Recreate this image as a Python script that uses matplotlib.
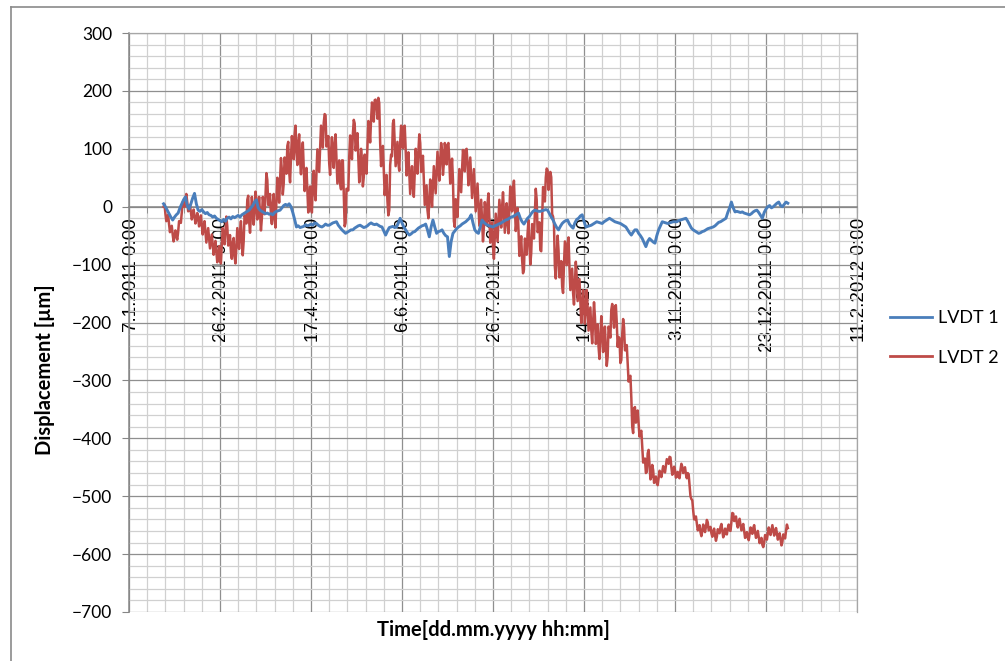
import datetime as dt

import matplotlib
matplotlib.use("Agg")
import matplotlib.pyplot as plt
import matplotlib.ticker as mticker
import matplotlib.dates as mdates
import matplotlib.transforms as mtransforms
from matplotlib.lines import Line2D

plt.rcParams["font.family"] = ["Liberation Sans", "DejaVu Sans"]

# day offsets are counted from the first axis date
start_date = dt.datetime(2011, 1, 7)
end_date = dt.datetime(2012, 2, 11)
first_day = 19

# LVDT 1 [um], one reading per day from first_day
lvdt1 = [
    5, 0, -6, -12, -18, -23, -18, -14, -11, -2,
    5, 12, 17, 2, -4, 5, 15, 23, 5, -6,
    -8, -5, -9, -12, -10, -14, -15, -18, -16, -20,
    -22, -24, -26, -22, -25, -20, -18, -21, -17, -19,
    -17, -15, -18, -14, -12, -10, -8, -6, -2, 2,
    8, 12, -2, -6, -8, -10, -12, -11, -13, -12,
    -14, -10, -8, -7, -6, -2, 2, 4, 2, 5,
    0, -10, -22, -35, -33, -36, -35, -34, -31, -33,
    -32, -30, -32, -28, -29, -32, -34, -35, -33, -30,
    -32, -32, -30, -28, -27, -26, -32, -36, -40, -43,
    -46, -44, -42, -40, -40, -37, -35, -33, -32, -34,
    -36, -35, -33, -30, -28, -30, -31, -30, -32, -34,
    -35, -42, -49, -42, -36, -35, -34, -36, -35, -28,
    -20, -28, -35, -40, -45, -49, -47, -44, -43, -40,
    -37, -35, -33, -32, -30, -40, -52, -35, -23, -35,
    -46, -43, -42, -40, -46, -50, -52, -86, -60, -46,
    -42, -38, -35, -33, -30, -28, -26, -23, -20, -14,
    -28, -40, -44, -46, -35, -23, -27, -30, -32, -33,
    -34, -35, -33, -32, -30, -29, -27, -25, -23, -22,
    -20, -18, -17, -15, -13, -11, -20, -26, -30, -25,
    -20, -17, -12, -8, -6, -7, -8, -8, -7, -6,
    -5, -6, -12, -18, -23, -30, -36, -40, -34, -29,
    -26, -24, -23, -30, -34, -37, -28, -22, -20, -16,
    -14, -25, -35, -34, -33, -32, -30, -28, -26, -27,
    -28, -29, -26, -24, -22, -20, -22, -24, -26, -27,
    -28, -29, -31, -33, -35, -40, -45, -49, -44, -40,
    -40, -46, -50, -55, -62, -69, -60, -55, -58, -61,
    -63, -50, -40, -33, -26, -27, -28, -29, -28, -27,
    -26, -26, -26, -24, -23, -22, -21, -20, -25, -31,
    -37, -40, -42, -44, -46, -45, -43, -42, -40, -38,
    -37, -36, -35, -33, -30, -27, -26, -24, -22, -20,
    -10, -2, 8, -2, -9, -8, -9, -10, -9, -11,
    -12, -13, -14, -12, -9, -7, -6, -10, -15, -20,
    -10, -4, 0, 2, -2, 0, 3, 6, 8, 2,
    0, 4, 8, 6,
]

# LVDT 2 [um], midnight readings, one per day from first_day
lvdt2 = [
    0, -12, -18, -30, -38, -48, -52, -50, -44, -25,
    -10, 5, 15, 8, -5, -10, -14, -16, -22, -20,
    -28, -32, -35, -44, -50, -55, -60, -66, -70, -78,
    -85, -92, -65, -50, -40, -34, -60, -78, -62, -86,
    -70, -55, -42, -58, -60, -20, 12, -25, -15, -2,
    -10, 12, -5, -12, -20, 5, 20, 46, 10, -16,
    5, -22, 10, 30, 45, 63, 40, 70, 105, 60,
    85, 100, 124, 95, 110, 80, 92, 70, 45, 30,
    10, 0, 40, 25, 58, 80, 100, 120, 145, 158,
    110, 75, 95, 85, 110, 80, 60, 40, 80, 20,
    -28, 30, 86, 100, 125, 144, 110, 85, 60, 80,
    51, 70, 105, 132, 150, 170, 184, 175, 188, 110,
    90, 60, 41, 10, -6, 90, 144, 110, 90, 75,
    110, 125, 138, 100, 69, 60, 45, 34, 60, 80,
    95, 110, 70, 46, 20, -6, 10, 25, 35, 46,
    60, 70, 81, 95, 75, 100, 107, 80, 60, 46,
    -35, 0, 25, 46, 65, 85, 98, 75, 60, 51,
    40, 29, 15, 5, -11, -25, -35, -10, 6, -20,
    -45, -69, -50, -35, -25, -12, 0, -10, -20, -28,
    -5, 15, 29, 0, -25, -40, -70, -92, -109, -60,
    -46, -60, -80, -40, -10, 12, -40, -75, -20, 29,
    50, 63, 55, 51, -17, -104, -85, -75, -110, -138,
    -100, -80, -63, -104, -125, -149, -130, -121, -145, -165,
    -178, -170, -175, -173, -195, -213, -200, -190, -225, -242,
    -225, -213, -230, -245, -259, -215, -178, -185, -173, -200,
    -225, -270, -220, -208, -248, -270, -294, -330, -391, -346,
    -360, -374, -390, -415, -440, -460, -426, -445, -467, -455,
    -470, -478, -468, -460, -458, -455, -448, -440, -432, -450,
    -460, -455, -465, -467, -455, -449, -455, -462, -460, -480,
    -505, -525, -540, -547, -555, -562, -560, -555, -553, -545,
    -558, -564, -560, -568, -570, -560, -553, -560, -567, -562,
    -555, -559, -545, -530, -540, -547, -545, -550, -553, -560,
    -568, -572, -565, -560, -555, -562, -566, -570, -576, -584,
    -580, -570, -564, -560, -558, -559, -562, -564, -570, -575,
    -579, -570, -560, -555,
]

# LVDT 2 [um], noon readings (half a day after each midnight reading)
lvdt2_noon = [
    4, -25, -14, -44, -33, -60, -41, -57, -25, -28,
    8, 0, 22, -8, 3, -22, -5, -29, -11, -34,
    -15, -48, -25, -62, -37, -72, -48, -83, -59, -96,
    -68, -98, -37, -65, -17, -67, -49, -90, -54, -98,
    -37, -73, -25, -84, -15, -29, 19, -45, 17, -31,
    26, -22, 17, -41, 17, -13, 58, 3, 22, -30,
    22, -36, 50, 7, 84, 21, 85, 57, 112, 42,
    122, 82, 140, 72, 125, 56, 111, 27, 67, -10,
    35, -10, 62, 11, 99, 60, 140, 102, 160, 104,
    122, 55, 120, 67, 125, 40, 80, 30, 80, -34,
    31, 28, 123, 82, 150, 97, 127, 42, 100, 35,
    90, 57, 148, 111, 180, 147, 185, 152, 179, 70,
    105, 20, 55, -15, 72, 87, 150, 70, 112, 62,
    140, 101, 140, 54, 94, 22, 70, 17, 100, 57,
    125, 60, 88, 3, 37, -20, 47, 0, 70, 23,
    95, 45, 110, 55, 110, 73, 110, 40, 83, -25,
    13, -18, 65, 25, 98, 61, 100, 37, 85, 15,
    65, -8, 40, -33, 12, -60, 8, -32, 23, -62,
    -27, -90, -12, -60, 12, -36, 25, -45, 6, -46,
    35, -8, 45, -42, -2, -85, -51, -115, -55, -83,
    -23, -100, -30, -55, 31, -44, -27, -77, 34, 9,
    66, 29, 60, -13, -30, -124, -50, -122, -94, -149,
    -60, -101, -53, -144, -107, -169, -95, -163, -125, -201,
    -144, -202, -144, -214, -174, -236, -165, -237, -203, -263,
    -189, -251, -207, -275, -207, -226, -168, -209, -170, -242,
    -227, -265, -194, -248, -239, -302, -292, -380, -348, -373,
    -352, -397, -387, -442, -435, -458, -420, -471, -446, -477,
    -466, -481, -456, -467, -448, -459, -436, -444, -433, -463,
    -449, -468, -458, -469, -444, -460, -450, -469, -462, -500,
    -507, -540, -535, -559, -550, -569, -549, -562, -541, -559,
    -553, -570, -556, -577, -557, -564, -548, -571, -556, -566,
    -549, -560, -529, -543, -535, -554, -539, -559, -548, -572,
    -562, -576, -554, -565, -550, -572, -560, -581, -572, -588,
    -567, -575, -554, -567, -550, -568, -555, -575, -564, -585,
    -566, -573, -549,
]

dates1 = [start_date + dt.timedelta(days=first_day + i) for i in range(len(lvdt1))]

# merge midnight and noon readings of LVDT 2 in time order
dates2, values2 = [], []
for i, val in enumerate(lvdt2):
    dates2.append(start_date + dt.timedelta(days=first_day + i))
    values2.append(val)
    if i < len(lvdt2_noon):
        dates2.append(start_date + dt.timedelta(days=first_day + i + 0.5))
        values2.append(lvdt2_noon[i])

major_dates = [start_date + dt.timedelta(days=50 * k) for k in range(9)]
minor_dates = [start_date + dt.timedelta(days=10 * k) for k in range(41)]

fig = plt.figure(figsize=(10.05, 6.61), dpi=100)
ax = fig.add_axes([129 / 1005, 1 - 612 / 661, 728 / 1005, 579 / 661])

ax.plot(dates2, values2, color="#be4b48", lw=1.8, label="LVDT 2", zorder=3)
ax.plot(dates1, lvdt1, color="#4a7ebb", lw=2.1, label="LVDT 1", zorder=4)

ax.set_xlim(start_date, end_date)
ax.set_ylim(-700, 300)

ax.xaxis.set_major_locator(mticker.FixedLocator(mdates.date2num(major_dates)))
ax.xaxis.set_minor_locator(mticker.FixedLocator(mdates.date2num(minor_dates)))


def date_label(x, pos):
    d = mdates.num2date(x)
    return f"{d.day}.{d.month}.{d.year} 0:00"


ax.xaxis.set_major_formatter(mticker.FuncFormatter(date_label))
ax.yaxis.set_major_locator(mticker.MultipleLocator(100))
ax.yaxis.set_minor_locator(mticker.MultipleLocator(20))

ax.grid(which="major", color="#8f8f8f", lw=0.9, zorder=1)
ax.grid(which="minor", color="#d0d0d0", lw=0.9, zorder=0)
ax.set_axisbelow(True)

ax.spines["bottom"].set_position(("data", 0))
for s in ["bottom", "left"]:
    ax.spines[s].set_color("#868686")
    ax.spines[s].set_linewidth(1.1)
for s in ["top", "right"]:
    ax.spines[s].set_color("#a6a6a6")
    ax.spines[s].set_linewidth(0.9)

ax.tick_params(axis="x", which="both", direction="out", length=4, color="#868686",
               pad=4, labelsize=13.5, labelrotation=90, labelcolor="black")
ax.tick_params(axis="y", which="major", direction="out", length=5, color="#868686",
               pad=7, labelsize=12.5, labelfontfamily="Lato")
ax.tick_params(axis="y", which="minor", length=0)

shift = mtransforms.ScaledTranslation(2 / 100, 0, fig.dpi_scale_trans)
for lab in ax.get_xticklabels():
    lab.set_transform(lab.get_transform() + shift)

fig.text(45 / 1005, 1 - 370 / 661, "Displacement [µm]", rotation=90, ha="center", va="center",
         fontfamily="Lato", fontweight="bold", fontsize=14.5)
fig.text(493 / 1005, 1 - 630 / 661, "Time[dd.mm.yyyy hh:mm]", ha="center", va="center",
         fontfamily="Lato", fontweight="bold", fontsize=14.5)

handles = [Line2D([], [], color="#4a7ebb", lw=2.0), Line2D([], [], color="#be4b48", lw=2.0)]
fig.legend(handles, ["LVDT 1", "LVDT 2"], loc="center left",
           bbox_to_anchor=(890 / 1005, 1 - 338 / 661), frameon=False,
           prop={"family": "Lato", "size": 13}, handlelength=2.3,
           handletextpad=0.35, labelspacing=1.3, borderpad=0, borderaxespad=0)

# chart area border (left and top edges visible)
fig.add_artist(Line2D([11 / 1005, 11 / 1005], [0, 1 - 7 / 661], transform=fig.transFigure,
                      color="#8a8a8a", lw=1.2))
fig.add_artist(Line2D([11 / 1005, 1], [1 - 7 / 661, 1 - 7 / 661], transform=fig.transFigure,
                      color="#8a8a8a", lw=1.2))

fig.savefig("out.png", dpi=100)
